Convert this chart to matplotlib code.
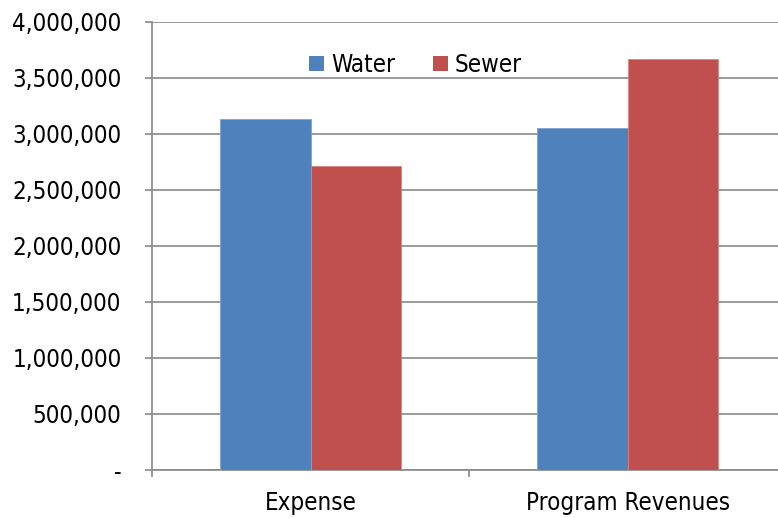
import matplotlib
matplotlib.use("Agg")
import matplotlib.pyplot as plt
from matplotlib.ticker import FuncFormatter, FixedLocator
from matplotlib.patches import Patch

categories = ["Expense", "Program Revenues"]
series_names = ["Water", "Sewer"]
water = [3134000, 3056000]
sewer = [2717000, 3672000]
y_ticks = [0, 500000, 1000000, 1500000, 2000000, 2500000, 3000000, 3500000, 4000000]

colors = ["#4F81BD", "#C0504D"]
edge_colors = ["#7FA3D1", "#D98481"]
grid_color = "#898989"

plt.rcParams["font.family"] = ["DejaVu Sans"]
plt.rcParams["font.stretch"] = "condensed"

fig = plt.figure(figsize=(7.78, 5.18), dpi=100)
W, H = 778, 518
left, right, top, bottom = 152, 786, 22, 470
ax = fig.add_axes([left / W, 1 - bottom / H, (right - left) / W, (bottom - top) / H])

bar_w = 1 / 3.5
x = list(range(len(categories)))
for i, (vals, c, ec) in enumerate(zip([water, sewer], colors, edge_colors)):
    pos = [xi + (i - 0.5) * bar_w for xi in x]
    ax.bar(pos, vals, width=bar_w, color=c, edgecolor=ec, linewidth=0.6,
           label=series_names[i], zorder=3)

ax.set_xlim(-0.5, len(categories) - 0.5)
ax.set_ylim(0, 4000000)
ax.set_yticks(y_ticks)
ax.yaxis.set_major_formatter(FuncFormatter(lambda v, p: "-" if v == 0 else f"{int(v):,}"))
ax.yaxis.grid(True, color=grid_color, linewidth=1.2, zorder=0)
ax.set_axisbelow(True)

fs = 17.3
ax.set_xticks(x)
ax.set_xticklabels(categories)
ax.xaxis.set_minor_locator(FixedLocator([-0.5, 0.5, 1.5]))
ax.tick_params(axis="x", which="major", length=0, pad=15, labelsize=fs)
ax.tick_params(axis="x", which="minor", length=5, width=1.2, color=grid_color)
ax.tick_params(axis="y", length=5, width=1.2, color=grid_color, pad=17, labelsize=fs)

for s in ["top", "right"]:
    ax.spines[s].set_visible(False)
for s in ["left", "bottom"]:
    ax.spines[s].set_color(grid_color)
    ax.spines[s].set_linewidth(1.2)

handles = [Patch(facecolor=c, edgecolor="none") for c in colors]
ax.legend(handles, series_names, loc="center", bbox_to_anchor=(0.416, 0.904),
          ncol=2, frameon=False, fontsize=fs, handlelength=0.6, handleheight=0.6,
          handletextpad=0.3, columnspacing=1.6)

fig.savefig("out.png", dpi=100)
